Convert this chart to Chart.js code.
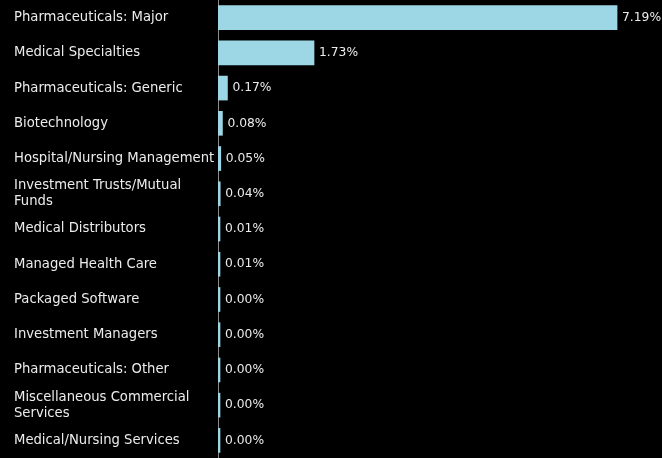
<!DOCTYPE html>
<html>
<head>
<meta charset="utf-8">
<title>Sector weights</title>
<script src="https://cdn.jsdelivr.net/npm/chart.js@4.4.1/dist/chart.umd.min.js"></script>
<style>
    html, body { margin: 0; padding: 0; background: #000; }
    #wrap { width: 662px; height: 458px; position: relative; }
</style>
</head>
<body>
<div id="wrap"><canvas id="chart"></canvas></div>
<script>
// Sector names (wrapped ones split into lines)
const sectors = [
    'Pharmaceuticals: Major',
    'Medical Specialties',
    'Pharmaceuticals: Generic',
    'Biotechnology',
    'Hospital/Nursing Management',
    ['Investment Trusts/Mutual', 'Funds'],
    'Medical Distributors',
    'Managed Health Care',
    'Packaged Software',
    'Investment Managers',
    'Pharmaceuticals: Other',
    ['Miscellaneous Commercial', 'Services'],
    'Medical/Nursing Services'
];

// Weight in percent
const weights = [7.19, 1.73, 0.17, 0.08, 0.05, 0.04, 0.01, 0.01, 0.00, 0.00, 0.00, 0.00, 0.00];

const axisMax = 8;

const FONT = { family: '"DejaVu Sans", sans-serif', size: 13.2, lineHeight: 1.2 };
const VALUE_FONT_SIZE = 12.3;
const TEXT_COLOR = '#ececec';
const BAR_COLOR = '#9dd7e5';

// draws "x.xx%" just past the end of each bar
const valueLabels = {
    id: 'valueLabels',
    afterDatasetsDraw(chart) {
        const ctx = chart.ctx;
        const meta = chart.getDatasetMeta(0);
        ctx.save();
        ctx.font = `${VALUE_FONT_SIZE}px ${FONT.family}`;
        ctx.fillStyle = TEXT_COLOR;
        ctx.textAlign = 'left';
        ctx.textBaseline = 'middle';
        meta.data.forEach((bar, i) => {
            const right = Math.max(bar.x, bar.base + 2);
            ctx.fillText(weights[i].toFixed(2) + '%', right + 5, bar.y);
        });
        ctx.restore();
    }
};

new Chart(document.getElementById('chart'), {
    type: 'bar',
    data: {
        labels: sectors,
        datasets: [{
            data: weights,
            backgroundColor: BAR_COLOR,
            borderWidth: 0,
            barThickness: 24,
            minBarLength: 2
        }]
    },
    options: {
        indexAxis: 'y',
        responsive: true,
        maintainAspectRatio: false,
        animation: false,
        layout: { padding: { left: 14, right: 0, top: 0, bottom: 0 } },
        scales: {
            x: {
                display: false,
                min: 0,
                max: axisMax
            },
            y: {
                grid: { display: false, drawTicks: false },
                border: { display: true, color: '#8c8c8c', dash: [3, 3], width: 1 },
                ticks: {
                    crossAlign: 'far',
                    autoSkip: false,
                    color: TEXT_COLOR,
                    font: FONT,
                    padding: 0
                },
                afterFit(scale) {
                    scale.width = 204;
                    // no extra room above/below the first and last label
                    scale.paddingTop = 0;
                    scale.paddingBottom = 0;
                }
            }
        },
        plugins: {
            legend: { display: false },
            tooltip: { enabled: false }
        }
    },
    plugins: [valueLabels]
});
</script>
</body>
</html>
